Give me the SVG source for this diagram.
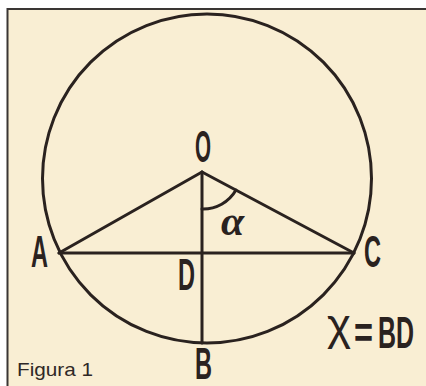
<svg xmlns="http://www.w3.org/2000/svg" width="426" height="386" viewBox="0 0 426 386">
<style>
.ln{stroke:#2a221f;stroke-width:3;fill:none;stroke-linecap:round}
.lb{font-family:"Liberation Sans",Arial,sans-serif;font-weight:bold;font-size:44px;fill:#2a221f}
.chi{font-weight:normal}
.cap{font-family:"Liberation Sans",Arial,sans-serif;font-size:19px;fill:#2f2826}
.gr{font-family:"Liberation Serif","Times New Roman",serif;font-style:italic;font-weight:bold;font-size:42px;fill:#2a221f}
</style>
<rect x="0" y="0" width="426" height="386" fill="#ffffff"/>
<rect x="7.5" y="9" width="430" height="400" fill="#f9eed3" stroke="#3a3634" stroke-width="2"/>
<g id="connectors">
<circle class="ln" cx="207" cy="178.5" r="164.5"/>
<line class="ln" x1="202" y1="172" x2="59" y2="253"/>
<line class="ln" x1="202" y1="172" x2="354" y2="253"/>
<line class="ln" x1="59" y1="253" x2="354" y2="253"/>
<line class="ln" x1="202" y1="172" x2="202" y2="343"/>
<path class="ln" d="M202,209 A38,38 0 0 0 236,190"/>
</g>
<g id="O"><text class="lb" x="195" y="162" textLength="16" lengthAdjust="spacingAndGlyphs">O</text></g>
<g id="A"><text class="lb" x="31" y="267" textLength="17" lengthAdjust="spacingAndGlyphs">A</text></g>
<g id="C"><text class="lb" x="364" y="267" textLength="17" lengthAdjust="spacingAndGlyphs">C</text></g>
<g id="D"><text class="lb" x="178" y="290" textLength="17" lengthAdjust="spacingAndGlyphs">D</text></g>
<g id="B"><text class="lb" x="195" y="379" textLength="17" lengthAdjust="spacingAndGlyphs">B</text></g>
<g id="alpha"><text class="gr" x="221" y="235">α</text></g>
<g id="formula">
<text class="lb"><tspan class="chi" x="327" y="340" textLength="24" lengthAdjust="spacingAndGlyphs">χ</tspan><tspan x="354" y="348" textLength="19" lengthAdjust="spacingAndGlyphs">=</tspan><tspan x="378" y="348" textLength="36" lengthAdjust="spacingAndGlyphs">BD</tspan></text>
</g>
<g id="caption"><text class="cap" x="17" y="376" textLength="76" lengthAdjust="spacingAndGlyphs">Figura 1</text></g>
</svg>
